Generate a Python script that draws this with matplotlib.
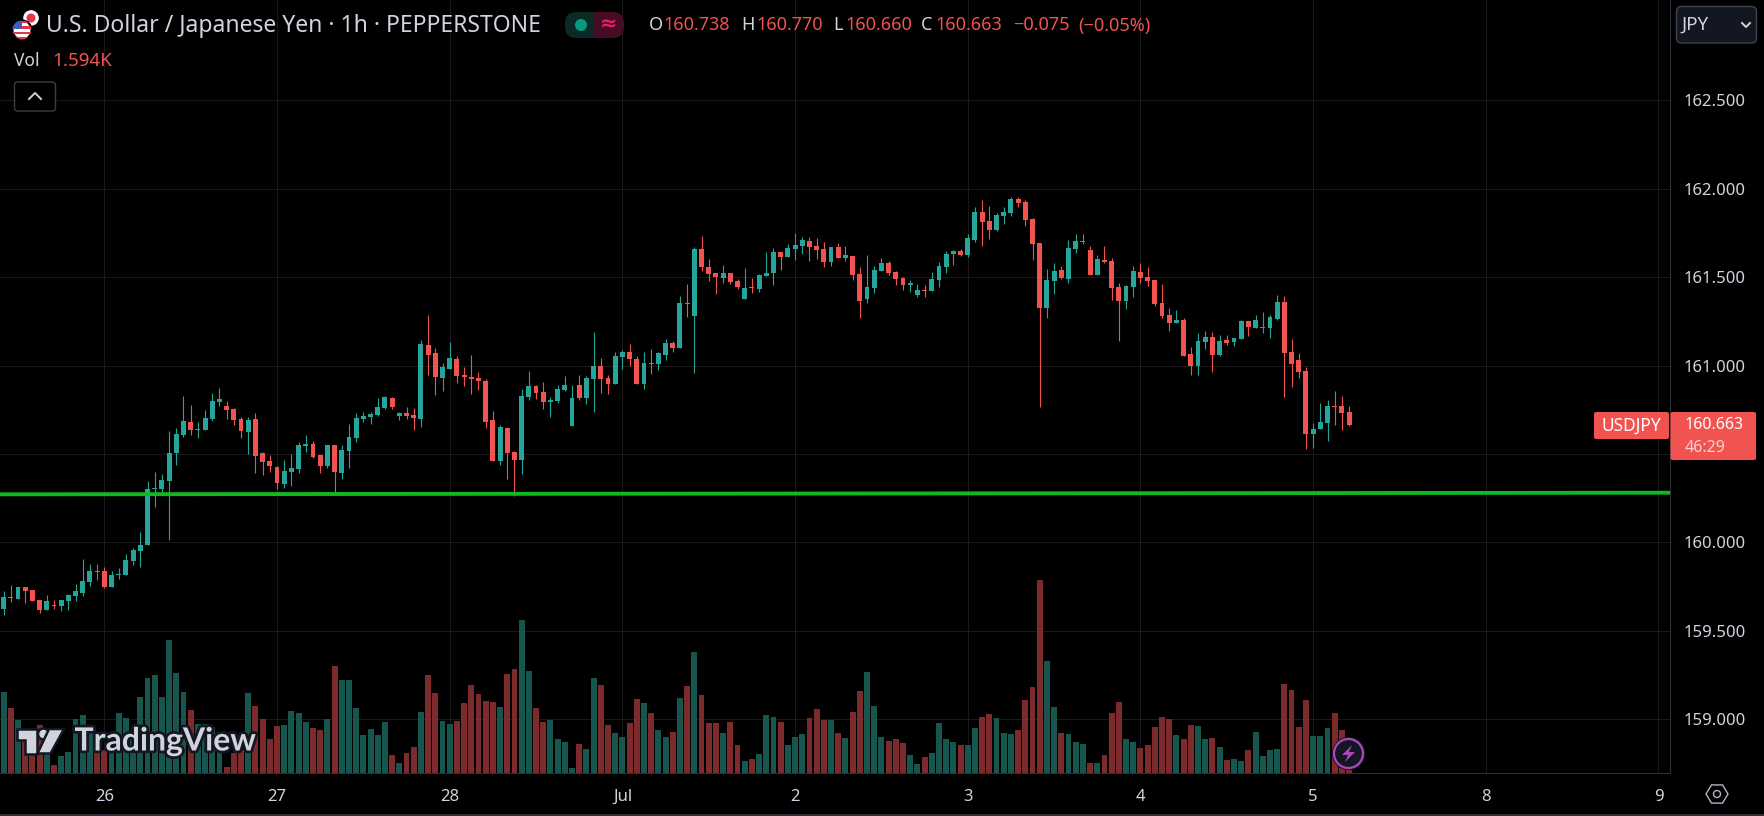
import numpy as np
import matplotlib
matplotlib.use("Agg")
import matplotlib.pyplot as plt
import matplotlib.patheffects as pe
from matplotlib.patches import Circle, Polygon, Rectangle, FancyBboxPatch

plt.rcParams['font.family'] = ['Noto Sans', 'DejaVu Sans']

# hourly candles. bar 0 is the first hour of the 26th
first_bar = -14
opens = [159.623,159.692,159.680,159.748,159.731,159.674,159.618,159.646,159.640,159.669,159.697,159.714,159.776,159.838,
    159.838,159.748,159.816,159.816,159.895,159.951,159.985,160.302,160.302,160.347,160.506,160.608,160.681,160.636,160.636,160.698,
    160.794,160.772,160.755,160.698,160.624,160.698,160.506,160.460,160.426,160.330,160.398,160.415,160.545,160.557,160.494,160.432,
    160.551,160.393,160.517,160.590,160.698,160.709,160.721,160.760,160.817,160.715,160.732,160.721,160.698,161.117,161.071,160.930,
    160.981,161.037,160.947,160.936,160.930,160.913,160.692,160.460,160.647,160.511,160.466,160.822,160.885,160.851,160.794,160.800,
    160.862,160.658,160.890,160.817,160.924,160.998,160.930,160.896,161.049,161.077,161.037,160.896,161.015,161.009,161.060,161.128,
    161.100,161.354,161.280,161.660,161.558,161.524,161.496,161.524,161.479,161.376,161.445,161.433,161.507,161.524,161.643,161.614,
    161.660,161.677,161.705,161.677,161.660,161.586,161.671,161.609,161.620,161.518,161.376,161.439,161.535,161.580,161.529,161.496,
    161.456,161.399,161.428,161.422,161.484,161.558,161.632,161.648,161.626,161.710,161.869,161.818,161.767,161.846,161.863,161.942,
    161.925,161.829,161.694,161.326,161.479,161.541,161.490,161.659,161.699,161.654,161.513,161.597,161.592,161.445,161.365,161.445,
    161.530,161.501,161.484,161.354,161.286,161.241,161.258,161.066,160.998,161.133,161.162,161.060,161.145,161.133,161.150,161.252,
    161.213,161.213,161.213,161.264,161.360,161.077,161.032,160.969,160.613,160.641,160.675,160.771,160.771,160.738]
highs = [159.725,159.759,159.748,159.748,159.731,159.674,159.702,159.674,159.674,159.708,159.765,159.906,159.878,159.878,
    159.861,159.838,159.855,159.934,159.968,160.059,160.347,160.398,160.387,160.630,160.647,160.828,160.777,160.681,160.749,160.845,
    160.873,160.800,160.760,160.709,160.709,160.732,160.511,160.494,160.432,160.466,160.500,160.568,160.608,160.574,160.494,160.551,
    160.551,160.551,160.670,160.732,160.738,160.735,160.817,160.828,160.822,160.738,160.766,160.760,161.145,161.286,161.100,161.015,
    161.133,161.054,160.992,161.060,160.964,160.924,160.743,160.664,160.653,160.517,160.868,160.970,160.890,160.907,160.822,160.890,
    160.941,160.890,160.947,160.941,161.190,161.043,160.947,161.077,161.088,161.122,161.054,161.077,161.094,161.077,161.150,161.139,
    161.394,161.461,161.671,161.733,161.603,161.524,161.569,161.524,161.490,161.552,161.496,161.518,161.643,161.665,161.643,161.688,
    161.750,161.727,161.727,161.722,161.699,161.671,161.694,161.677,161.620,161.558,161.626,161.563,161.609,161.592,161.535,161.501,
    161.484,161.461,161.456,161.529,161.586,161.648,161.654,161.660,161.744,161.897,161.937,161.903,161.863,161.897,161.954,161.954,
    161.937,161.835,161.694,161.546,161.580,161.563,161.710,161.744,161.744,161.676,161.625,161.676,161.608,161.467,161.456,161.563,
    161.580,161.558,161.484,161.461,161.326,161.314,161.269,161.105,161.184,161.196,161.190,161.173,161.173,161.156,161.258,161.252,
    161.286,161.303,161.286,161.399,161.394,161.150,161.071,160.992,160.675,160.788,160.805,160.856,160.828,160.770]
lows = [159.590,159.663,159.680,159.657,159.669,159.601,159.618,159.623,159.612,159.618,159.669,159.697,159.753,159.787,
    159.742,159.748,159.793,159.816,159.872,159.861,159.985,160.200,160.285,160.014,160.438,160.596,160.608,160.590,160.636,160.687,
    160.772,160.698,160.664,160.590,160.500,160.393,160.381,160.398,160.302,160.308,160.319,160.393,160.511,160.477,160.393,160.421,
    160.279,160.359,160.421,160.568,160.681,160.670,160.715,160.755,160.755,160.692,160.698,160.636,160.653,160.947,160.834,160.856,
    160.981,160.902,160.885,160.839,160.862,160.647,160.460,160.438,160.359,160.262,160.387,160.805,160.811,160.755,160.709,160.788,
    160.856,160.658,160.805,160.783,160.738,160.845,160.839,160.896,160.981,160.998,160.896,160.868,160.952,160.975,161.032,161.077,
    161.100,161.275,160.958,161.535,161.479,161.405,161.467,161.461,161.433,161.376,161.411,161.416,161.507,161.456,161.541,161.614,
    161.597,161.632,161.592,161.603,161.558,161.563,161.609,161.592,161.484,161.269,161.354,161.411,161.535,161.512,161.456,161.428,
    161.416,161.388,161.388,161.422,161.445,161.524,161.569,161.620,161.614,161.699,161.677,161.716,161.761,161.801,161.846,161.897,
    161.790,161.597,160.766,161.269,161.405,161.490,161.467,161.637,161.688,161.513,161.513,161.580,161.371,161.139,161.320,161.388,
    161.467,161.450,161.337,161.269,161.196,161.241,161.054,160.947,160.947,161.094,160.964,161.054,161.117,161.111,161.150,161.167,
    161.213,161.184,161.156,161.258,160.822,160.879,160.930,160.528,160.534,160.641,160.574,160.664,160.636,160.660]
closes = [159.692,159.686,159.748,159.725,159.669,159.618,159.669,159.640,159.674,159.702,159.725,159.782,159.838,159.833,
    159.748,159.816,159.821,159.900,159.957,159.985,160.302,160.308,160.353,160.506,160.613,160.687,160.636,160.641,160.704,160.800,
    160.811,160.749,160.692,160.630,160.692,160.489,160.455,160.432,160.336,160.404,160.421,160.551,160.557,160.483,160.432,160.551,
    160.398,160.523,160.596,160.704,160.715,160.726,160.766,160.822,160.766,160.732,160.715,160.704,161.122,161.060,160.936,160.992,
    161.043,160.941,160.936,160.924,160.913,160.681,160.460,160.653,160.506,160.466,160.828,160.885,160.845,160.794,160.805,160.868,
    160.890,160.817,160.817,160.930,160.998,160.924,160.896,161.054,161.077,161.037,160.896,161.015,161.009,161.071,161.128,161.100,
    161.354,161.348,161.660,161.558,161.518,161.501,161.524,161.473,161.445,161.439,161.439,161.512,161.524,161.643,161.614,161.665,
    161.682,161.710,161.671,161.654,161.586,161.671,161.609,161.626,161.512,161.367,161.445,161.541,161.580,161.524,161.490,161.456,
    161.467,161.428,161.422,161.490,161.563,161.632,161.648,161.626,161.722,161.869,161.812,161.767,161.852,161.869,161.942,161.920,
    161.824,161.688,161.326,161.484,161.535,161.495,161.665,161.705,161.705,161.513,161.603,161.586,161.439,161.365,161.450,161.535,
    161.495,161.479,161.348,161.280,161.241,161.258,161.054,160.998,161.139,161.162,161.060,161.139,161.128,161.156,161.252,161.218,
    161.258,161.218,161.275,161.360,161.071,161.009,160.964,160.613,160.641,160.681,160.771,160.766,160.732,160.663]

# volume bar heights, scale not shown on the chart
volumes = [244,196,160,115,120,145,60,25,52,64,163,175,130,90,
    70,110,181,166,125,229,286,295,229,400,301,244,190,148,148,139,
    100,19,60,70,241,202,163,103,142,145,187,181,154,136,130,163,
    322,280,280,196,115,133,115,154,55,31,61,79,184,295,241,157,
    148,157,211,265,238,217,214,199,298,313,460,307,196,154,160,103,
    94,16,88,73,286,265,145,121,109,151,223,211,181,130,109,124,
    226,262,364,235,151,151,121,154,85,37,43,58,175,169,154,85,
    109,118,166,193,160,160,121,106,184,247,304,202,109,97,103,91,
    55,28,49,61,151,103,94,85,85,136,169,178,166,121,118,130,
    220,259,580,337,199,121,118,94,88,31,31,55,181,214,103,94,
    76,85,139,169,163,115,103,145,142,103,106,79,40,43,37,70,
    124,52,70,73,268,250,139,220,112,112,136,181,130,10]

price_ticks = [159.0, 159.5, 160.0, 160.5, 161.0, 161.5, 162.0, 162.5]
# 160.500 sits under the last price tag, so it has no visible label
price_labels = ['159.000', '159.500', '160.000', '', '161.000', '161.500', '162.000', '162.500']
day_labels = ['26', '27', '28', 'Jul', '2', '3', '4', '5', '8', '9']
support_x = [-14.5, 217.6]
support_y = [160.272, 160.281]

UP = '#26a69a'
DOWN = '#f05350'
UP_VOL = '#17564f'
DOWN_VOL = '#7c2a2c'
GRID = '#191919'
LINE = '#2a2e39'
TEXT = '#d1d4dc'
PANEL = '#131722'

opens, highs, lows, closes = map(np.array, (opens, highs, lows, closes))
volumes = np.array(volumes)
bars = np.arange(len(opens)) + first_bar
up = closes >= opens
colors = np.where(up, UP, DOWN)
vol_colors = np.where(up, UP_VOL, DOWN_VOL)

fig = plt.figure(figsize=(17.64, 8.16), dpi=100, facecolor='black')
pos = [0, (816 - 773.3) / 816, 1670 / 1764, 773.3 / 816]

ax = fig.add_axes(pos, facecolor='black', zorder=1)
ax.set_xlim(-14.5, 217.6)
ax.set_ylim(158.694, 163.068)
ax.set_yticks(price_ticks)
ax.set_yticklabels(price_labels)
ax.set_xticks(np.arange(len(day_labels)) * 24)
ax.set_xticklabels(day_labels)
ax.yaxis.tick_right()
ax.tick_params(axis='y', length=0, pad=10, labelsize=12, labelcolor=TEXT)
ax.tick_params(axis='x', length=0, pad=11, labelsize=12, labelcolor=TEXT)
ax.grid(True, color=GRID, lw=0.72)
ax.set_axisbelow(True)
for name, spine in ax.spines.items():
    spine.set_color(LINE)
    spine.set_visible(name in ('right', 'bottom'))

ax.vlines(bars, lows, highs, colors=colors, lw=0.8, zorder=3)
ax.bar(bars, np.abs(closes - opens), bottom=np.minimum(opens, closes), width=0.68,
       color=colors, zorder=4)
ax.plot(support_x, support_y, color='#10b91e', lw=2.8, zorder=5)

ax_vol = fig.add_axes(pos, sharex=ax, zorder=2)
ax_vol.patch.set_visible(False)
ax_vol.set_ylim(0, 773.3 * 3)
ax_vol.bar(bars, volumes, width=0.82, color=vol_colors)
ax_vol.axis('off')

# everything below is chart chrome, placed in figure pixels
ui = fig.add_axes([0, 0, 1, 1], zorder=5)
ui.set_xlim(0, 1764)
ui.set_ylim(816, 0)
ui.axis('off')
ui.patch.set_visible(False)


def label(x, y, s, color=TEXT, size=12, **kw):
    kw.setdefault('va', 'center')
    return ui.text(x, y, s, color=color, fontsize=size, **kw)


def box(x0, y0, x1, y1, face, edge='none', r=3, **kw):
    p = FancyBboxPatch((x0, y0), x1 - x0, y1 - y0, boxstyle='round,pad=0,rounding_size=%g' % r,
                       fc=face, ec=edge, lw=1, **kw)
    ui.add_patch(p)
    return p


ui.plot([0, 1764], [815, 815], color=LINE, lw=1.5)

# flags
ui.add_patch(Circle((31, 18), 8.5, fc='white', ec='black', lw=1))
ui.add_patch(Circle((31, 18), 4.5, fc='#e5354a', ec='none'))
us = Circle((22, 30), 9.5, fc='white', ec='black', lw=1.5)
ui.add_patch(us)
for top in (20.5, 26, 31.5, 37):
    r = Rectangle((12, top), 20, 2.8, fc='#e5354a', ec='none')
    ui.add_patch(r)
    r.set_clip_path(us)
canton = Rectangle((12, 20), 10, 9, fc='#3c5fc0', ec='none')
ui.add_patch(canton)
canton.set_clip_path(us)

label(46, 25.5, 'U.S. Dollar / Japanese Yen · 1h · PEPPERSTONE', size=16.5)
label(13.5, 61, 'Vol', size=12.5)
label(52, 61, '1.594K', color='#f05350', size=13.5)
box(14.5, 82, 55.5, 111, 'black', edge='#3a3e48', r=3)
ui.plot([29, 35, 41], [99, 93, 99], color=TEXT, lw=1.4)

# market status pill
box(565, 12, 610, 38, '#0b2a26', r=11)
box(594, 12, 624, 38, '#470c25', r=11)
ui.add_patch(Rectangle((594, 12), 10, 26, fc='#470c25', ec='none'))
ui.add_patch(Circle((581, 25), 6, fc='#089981', ec='none'))
label(609, 25, '≈', color='#e91e63', size=15, ha='center', fontweight='bold')

for x, s in [(649, 'O'), (741, 'H'), (833, 'L'), (921, 'C')]:
    label(x, 25.5, s, size=13)
for x, s in [(663, '160.738'), (756, '160.770'), (845, '160.660'), (935, '160.663'),
             (1013, '−0.075'), (1078, '(−0.05%)')]:
    label(x, 25.5, s, color='#f05350', size=13)

# last price tags
box(1594, 412, 1669, 439, DOWN, r=2)
box(1670.5, 412, 1756, 460, DOWN, r=2)
label(1631, 425.5, 'USDJPY', color='white', size=12.5, ha='center', fontweight='bold')
label(1685, 425, '160.663', color='white', size=11.5, fontweight='bold')
label(1685, 447.5, '46:29', color='#fbd0cf', size=11.5)

# currency button
box(1676.5, 6.5, 1756.5, 43, PANEL, edge='#3f434e', r=5)
label(1681, 24.5, 'JPY', size=13.5)
ui.plot([1742, 1746, 1750], [23, 27, 23], color=TEXT, lw=1.4)

# settings icon
ang = np.radians([0, 60, 120, 180, 240, 300])
ui.add_patch(Polygon(np.c_[1717 + 11 * np.cos(ang), 794 + 10.5 * np.sin(ang)], fc='none', ec='#b2b5be', lw=1))
ui.add_patch(Circle((1717, 794), 3.5, fc='none', ec='#b2b5be', lw=1))

# alert badge
ui.add_patch(Circle((1348.5, 753.5), 16.5, fc=PANEL, ec='none'))
ui.add_patch(Circle((1348.5, 753.5), 14.5, fc=PANEL, ec='#ab47bc', lw=1.6))
ui.add_patch(Polygon([(1352, 745), (1342, 755), (1348, 755), (1345, 762), (1355, 752), (1349, 752)],
                     fc='#ab47bc', ec='none'))

# logo
halo = dict(fc='#d1d4dc', ec=PANEL, lw=1.8, zorder=2)
ui.add_patch(Polygon([(16.5, 729), (37, 729), (37, 753.5), (24.5, 753.5), (24.5, 739.5), (16.5, 739.5)], **halo))
ui.add_patch(Circle((43.5, 734), 5.5, **halo))
ui.add_patch(Polygon([(49, 729), (64, 729), (50.5, 753.5), (37.5, 753.5)], **halo))
t = label(74.5, 741, 'TradingView', color='#d1d4dc', size=23, fontweight='bold', family='Lato', zorder=3)
t.set_path_effects([pe.withStroke(linewidth=4, foreground=PANEL)])

fig.savefig('out.png', dpi=100, facecolor='black')
